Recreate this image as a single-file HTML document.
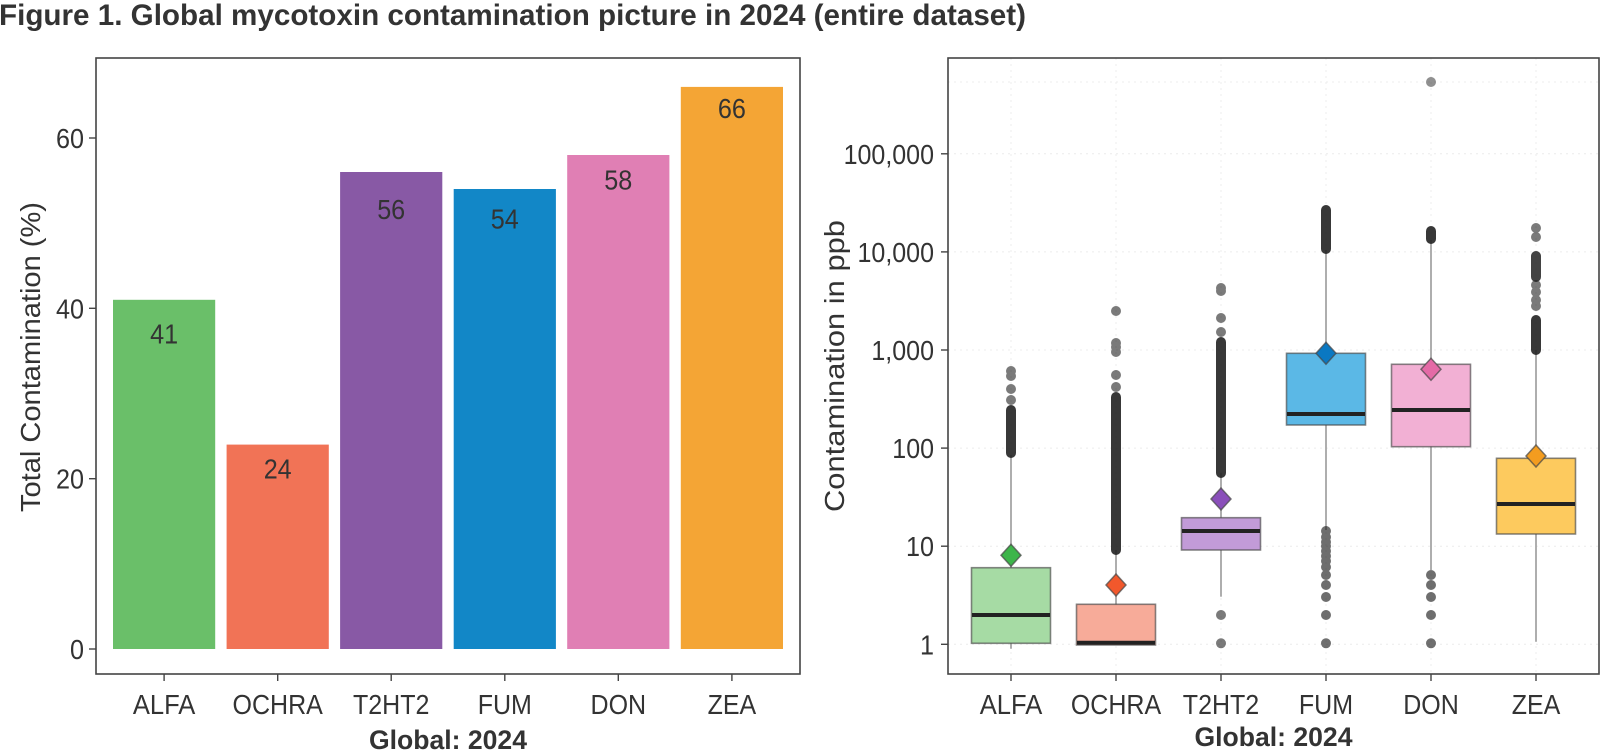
<!DOCTYPE html>
<html>
<head>
<meta charset="utf-8">
<style>
html,body{margin:0;padding:0;background:#fff;}
svg{display:block;}
text{font-family:"Liberation Sans",sans-serif;fill:#333;}
</style>
</head>
<body>
<svg width="1600" height="752" viewBox="0 0 1600 752" xmlns="http://www.w3.org/2000/svg">
<rect width="1600" height="752" fill="#fff"/>
<!-- Title -->
<text x="-1" y="25" font-size="30" font-weight="bold" textLength="1027" lengthAdjust="spacingAndGlyphs" style="fill:#333">Figure 1. Global mycotoxin contamination picture in 2024 (entire dataset)</text>

<!-- ================= LEFT CHART ================= -->
<rect x="113" y="299.8" width="102.2" height="349.2" fill="#6abf69"/>
<rect x="226.6" y="444.6" width="102.2" height="204.4" fill="#f17356"/>
<rect x="340.1" y="172" width="102.2" height="477" fill="#8859a5"/>
<rect x="453.7" y="189" width="102.2" height="460" fill="#1287c7"/>
<rect x="567.2" y="155" width="102.2" height="494" fill="#e07fb4"/>
<rect x="680.8" y="86.9" width="102.2" height="562.1" fill="#f4a535"/>
<g font-size="28" text-anchor="middle" lengthAdjust="spacingAndGlyphs">
<text x="164.1" y="343.7" textLength="28" lengthAdjust="spacingAndGlyphs">41</text>
<text x="277.7" y="478.4" textLength="28" lengthAdjust="spacingAndGlyphs">24</text>
<text x="391.2" y="219.2" textLength="28" lengthAdjust="spacingAndGlyphs">56</text>
<text x="504.8" y="228.4" textLength="28" lengthAdjust="spacingAndGlyphs">54</text>
<text x="618.3" y="189.6" textLength="28" lengthAdjust="spacingAndGlyphs">58</text>
<text x="731.9" y="118.2" textLength="28" lengthAdjust="spacingAndGlyphs">66</text>
</g>
<rect x="96" y="58" width="704" height="616" fill="none" stroke="#444" stroke-width="1.6"/>
<g stroke="#444" stroke-width="1.4">
<line x1="89" y1="649" x2="96" y2="649"/>
<line x1="89" y1="478.7" x2="96" y2="478.7"/>
<line x1="89" y1="308.3" x2="96" y2="308.3"/>
<line x1="89" y1="138" x2="96" y2="138"/>
</g>
<g font-size="28" text-anchor="end">
<text x="84" y="659" textLength="14" lengthAdjust="spacingAndGlyphs">0</text>
<text x="84" y="488.7" textLength="28" lengthAdjust="spacingAndGlyphs">20</text>
<text x="84" y="318.3" textLength="28" lengthAdjust="spacingAndGlyphs">40</text>
<text x="84" y="148" textLength="28" lengthAdjust="spacingAndGlyphs">60</text>
</g>
<g stroke="#444" stroke-width="1.4">
<line x1="164.1" y1="674" x2="164.1" y2="681"/>
<line x1="277.7" y1="674" x2="277.7" y2="681"/>
<line x1="391.2" y1="674" x2="391.2" y2="681"/>
<line x1="504.8" y1="674" x2="504.8" y2="681"/>
<line x1="618.3" y1="674" x2="618.3" y2="681"/>
<line x1="731.9" y1="674" x2="731.9" y2="681"/>
</g>
<g font-size="28" text-anchor="middle">
<text x="164.1" y="714" textLength="62.5" lengthAdjust="spacingAndGlyphs">ALFA</text>
<text x="277.7" y="714" textLength="90.3" lengthAdjust="spacingAndGlyphs">OCHRA</text>
<text x="391.2" y="714" textLength="76.4" lengthAdjust="spacingAndGlyphs">T2HT2</text>
<text x="504.8" y="714" textLength="54.2" lengthAdjust="spacingAndGlyphs">FUM</text>
<text x="618.3" y="714" textLength="55.6" lengthAdjust="spacingAndGlyphs">DON</text>
<text x="731.9" y="714" textLength="48.6" lengthAdjust="spacingAndGlyphs">ZEA</text>
</g>
<text x="448" y="749" font-size="27" font-weight="bold" text-anchor="middle" textLength="158" lengthAdjust="spacingAndGlyphs">Global: 2024</text>
<text transform="translate(40,357) rotate(-90)" font-size="28" text-anchor="middle" textLength="310" lengthAdjust="spacingAndGlyphs">Total Contamination (%)</text>

<!-- ================= RIGHT CHART ================= -->
<g stroke="#ececec" stroke-width="1" stroke-dasharray="2 4">
<line x1="948" y1="82" x2="1599" y2="82"/>
<line x1="948" y1="153.8" x2="1599" y2="153.8"/>
<line x1="948" y1="251.9" x2="1599" y2="251.9"/>
<line x1="948" y1="350" x2="1599" y2="350"/>
<line x1="948" y1="448.1" x2="1599" y2="448.1"/>
<line x1="948" y1="546.2" x2="1599" y2="546.2"/>
<line x1="948" y1="644.3" x2="1599" y2="644.3"/>
<line x1="1011" y1="58" x2="1011" y2="674"/>
<line x1="1116" y1="58" x2="1116" y2="674"/>
<line x1="1221" y1="58" x2="1221" y2="674"/>
<line x1="1326" y1="58" x2="1326" y2="674"/>
<line x1="1431" y1="58" x2="1431" y2="674"/>
<line x1="1536" y1="58" x2="1536" y2="674"/>
</g>

<g stroke="#9a9a9a" stroke-width="1.6">
<line x1="1011" y1="455" x2="1011" y2="648.8"/>
<line x1="1116" y1="550" x2="1116" y2="645"/>
<line x1="1221" y1="473.3" x2="1221" y2="596.7"/>
<line x1="1326" y1="250" x2="1326" y2="530"/>
<line x1="1431" y1="240" x2="1431" y2="570"/>
<line x1="1536" y1="350" x2="1536" y2="641.7"/>
</g>

<g stroke="rgba(70,70,70,0.65)" stroke-width="1.6">
<rect x="971.5" y="567.7" width="79" height="75.6" fill="#a6dba4"/>
<rect x="1076.5" y="604.3" width="79" height="40.7" fill="#f7ab99"/>
<rect x="1181.5" y="517.7" width="79" height="32.3" fill="#c29bd8"/>
<rect x="1286.5" y="353.3" width="79" height="71.7" fill="#5bb8e6"/>
<rect x="1391.5" y="364.3" width="79" height="82.4" fill="#f2b0d4"/>
<rect x="1496.5" y="458.3" width="79" height="75.7" fill="#fdca5e"/>
</g>
<g stroke="#222" stroke-width="4">
<line x1="972" y1="615" x2="1050" y2="615"/>
<line x1="1077" y1="642.8" x2="1155" y2="642.8"/>
<line x1="1182" y1="531" x2="1260" y2="531"/>
<line x1="1287" y1="414" x2="1365" y2="414"/>
<line x1="1392" y1="410" x2="1470" y2="410"/>
<line x1="1497" y1="504" x2="1575" y2="504"/>
</g>

<g fill="#222">
<rect x="1006" y="405" width="10" height="53" rx="5" opacity="0.9"/>
<g opacity="0.6">
<circle cx="1011" cy="371" r="5"/><circle cx="1011" cy="376" r="5"/><circle cx="1011" cy="389" r="5"/><circle cx="1011" cy="400" r="5"/>
</g>
<rect x="1111" y="392" width="10" height="163" rx="5" opacity="0.9"/>
<g opacity="0.6">
<circle cx="1116" cy="311" r="5"/><circle cx="1116" cy="343" r="5"/><circle cx="1116" cy="347" r="5"/><circle cx="1116" cy="352" r="5"/><circle cx="1116" cy="375" r="5"/><circle cx="1116" cy="387" r="5"/>
</g>
<rect x="1216" y="337" width="10" height="141" rx="5" opacity="0.9"/>
<g opacity="0.6">
<circle cx="1221" cy="288" r="5"/><circle cx="1221" cy="291" r="5"/><circle cx="1221" cy="318" r="5"/><circle cx="1221" cy="332" r="5"/>
<circle cx="1221" cy="615" r="5"/><circle cx="1221" cy="643.3" r="5"/>
</g>
<rect x="1321" y="205" width="10" height="49" rx="5" opacity="0.9"/>
<g opacity="0.65">
<circle cx="1326" cy="531" r="5"/><circle cx="1326" cy="537" r="5"/><circle cx="1326" cy="542" r="5"/><circle cx="1326" cy="546" r="5"/><circle cx="1326" cy="551" r="5"/><circle cx="1326" cy="556" r="5"/><circle cx="1326" cy="561" r="5"/><circle cx="1326" cy="567" r="5"/><circle cx="1326" cy="575" r="5"/>
<circle cx="1326" cy="585" r="5"/><circle cx="1326" cy="597" r="5"/><circle cx="1326" cy="615" r="5"/><circle cx="1326" cy="643.3" r="5"/>
</g>
<rect x="1426" y="226" width="10" height="18" rx="5" opacity="0.9"/>
<g opacity="0.5">
<circle cx="1431" cy="82" r="5"/>
</g>
<g opacity="0.65">
<circle cx="1431" cy="575" r="5"/><circle cx="1431" cy="585" r="5"/><circle cx="1431" cy="597" r="5"/><circle cx="1431" cy="615" r="5"/><circle cx="1431" cy="643.3" r="5"/>
</g>
<rect x="1531" y="315" width="10" height="40" rx="5" opacity="0.9"/>
<rect x="1531" y="251" width="10" height="31" rx="5" opacity="0.85"/>
<g opacity="0.6">
<circle cx="1536" cy="285" r="5"/><circle cx="1536" cy="292" r="5"/><circle cx="1536" cy="300" r="5"/><circle cx="1536" cy="306" r="5"/>
<circle cx="1536" cy="228" r="5"/><circle cx="1536" cy="237" r="5"/>
</g>
</g>

<g stroke="rgba(70,70,70,0.7)" stroke-width="1.5">
<polygon points="1011,544.3 1021,555.3 1011,566.3 1001,555.3" fill="#3db54a"/>
<polygon points="1116,574 1126,585 1116,596 1106,585" fill="#f2582c"/>
<polygon points="1221,488 1231,499 1221,510 1211,499" fill="#8a4fba"/>
<polygon points="1326,342.3 1336,353.3 1326,364.3 1316,353.3" fill="#0a78c2"/>
<polygon points="1431,358.3 1441,369.3 1431,380.3 1421,369.3" fill="#e46aa6"/>
<polygon points="1536,445 1546,456 1536,467 1526,456" fill="#f39c1f"/>
</g>

<rect x="948" y="58" width="651" height="616" fill="none" stroke="#444" stroke-width="1.6"/>
<g stroke="#444" stroke-width="1.4">
<line x1="941" y1="644.3" x2="948" y2="644.3"/>
<line x1="941" y1="546.2" x2="948" y2="546.2"/>
<line x1="941" y1="448.1" x2="948" y2="448.1"/>
<line x1="941" y1="350" x2="948" y2="350"/>
<line x1="941" y1="251.9" x2="948" y2="251.9"/>
<line x1="941" y1="153.8" x2="948" y2="153.8"/>
</g>
<g font-size="28" text-anchor="end">
<text x="934" y="654.3" textLength="14" lengthAdjust="spacingAndGlyphs">1</text>
<text x="934" y="556.2" textLength="28" lengthAdjust="spacingAndGlyphs">10</text>
<text x="934" y="458.1" textLength="41.7" lengthAdjust="spacingAndGlyphs">100</text>
<text x="934" y="360" textLength="62.6" lengthAdjust="spacingAndGlyphs">1,000</text>
<text x="934" y="261.9" textLength="76.5" lengthAdjust="spacingAndGlyphs">10,000</text>
<text x="934" y="163.8" textLength="90.4" lengthAdjust="spacingAndGlyphs">100,000</text>
</g>
<g stroke="#444" stroke-width="1.4">
<line x1="1011" y1="674" x2="1011" y2="681"/>
<line x1="1116" y1="674" x2="1116" y2="681"/>
<line x1="1221" y1="674" x2="1221" y2="681"/>
<line x1="1326" y1="674" x2="1326" y2="681"/>
<line x1="1431" y1="674" x2="1431" y2="681"/>
<line x1="1536" y1="674" x2="1536" y2="681"/>
</g>
<g font-size="28" text-anchor="middle">
<text x="1011" y="714" textLength="62.5" lengthAdjust="spacingAndGlyphs">ALFA</text>
<text x="1116" y="714" textLength="90.3" lengthAdjust="spacingAndGlyphs">OCHRA</text>
<text x="1221" y="714" textLength="76.4" lengthAdjust="spacingAndGlyphs">T2HT2</text>
<text x="1326" y="714" textLength="54.2" lengthAdjust="spacingAndGlyphs">FUM</text>
<text x="1431" y="714" textLength="55.6" lengthAdjust="spacingAndGlyphs">DON</text>
<text x="1536" y="714" textLength="48.6" lengthAdjust="spacingAndGlyphs">ZEA</text>
</g>
<text x="1273.5" y="746" font-size="27" font-weight="bold" text-anchor="middle" textLength="158" lengthAdjust="spacingAndGlyphs">Global: 2024</text>
<text transform="translate(844,366) rotate(-90)" font-size="28" text-anchor="middle" textLength="292" lengthAdjust="spacingAndGlyphs">Contamination in ppb</text>
</svg>
</body>
</html>
